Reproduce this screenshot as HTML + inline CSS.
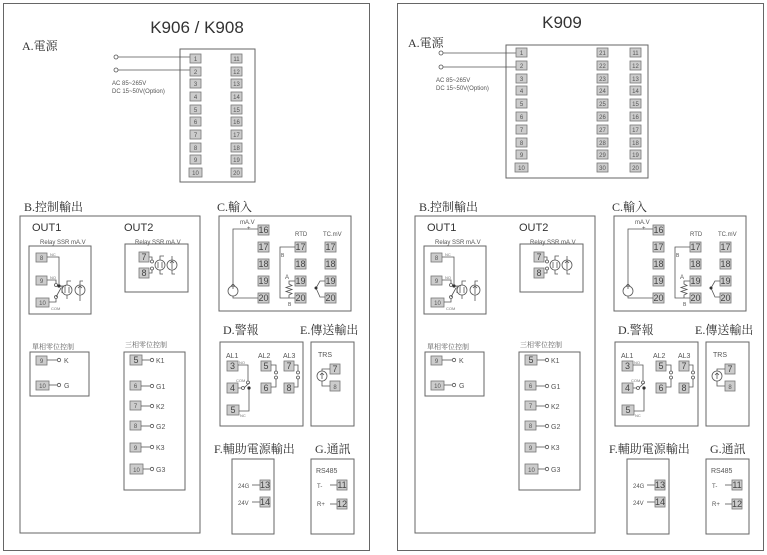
<!DOCTYPE html>
<html><head><meta charset="utf-8"><style>
html,body{margin:0;padding:0;background:#fff}
svg{display:block}
text{font-family:"Liberation Sans",sans-serif;fill:#444}
.cj{font-family:"Liberation Serif","Noto Serif CJK SC","Noto Sans CJK TC",serif;font-size:12px;fill:#333}
.cs{font-family:"Liberation Serif","Noto Serif CJK SC","Noto Sans CJK TC",serif;font-size:7px;fill:#666}
.t{fill:#ccc;stroke:#777;stroke-width:0.8}
.n{font-size:6px;text-anchor:middle;fill:#555}
.nb{font-size:9px;text-anchor:middle;fill:#444}
.w{fill:none;stroke:#555;stroke-width:0.8}
.b{fill:none;stroke:#666;stroke-width:1}
.s{font-size:6px;fill:#555}
</style></head><body>
<svg width="767" height="555" viewBox="0 0 767 555" xmlns="http://www.w3.org/2000/svg">
<rect x="3.5" y="3.5" width="366" height="547" class="b"/>
<rect x="397.5" y="3.5" width="366" height="547" class="b"/>

<text x="197" y="33" style="font-size:17px;text-anchor:middle;fill:#333">K906 / K908</text>
<text x="22" y="50" class="cj">A.電源</text>
<rect x="180" y="49" width="75" height="133" class="b"/>
<g>
<circle cx="116" cy="57" r="2" class="w"/><path d="M118 57H190" class="w"/>
<circle cx="116" cy="70" r="2" class="w"/><path d="M118 70H190" class="w"/>
<text x="112" y="85" class="s">AC 85~265V</text>
<text x="112" y="93" class="s">DC 15~50V(Option)</text>
</g>
<g>
<rect x="190" y="54" width="11" height="9" class="t"/><text x="195.5" y="61" class="n">1</text>
<rect x="190" y="67" width="11" height="9" class="t"/><text x="195.5" y="74" class="n">2</text>
<rect x="190" y="79" width="11" height="9" class="t"/><text x="195.5" y="86" class="n">3</text>
<rect x="190" y="92" width="11" height="9" class="t"/><text x="195.5" y="99" class="n">4</text>
<rect x="190" y="105" width="11" height="9" class="t"/><text x="195.5" y="112" class="n">5</text>
<rect x="190" y="117" width="11" height="9" class="t"/><text x="195.5" y="124" class="n">6</text>
<rect x="190" y="130" width="11" height="9" class="t"/><text x="195.5" y="137" class="n">7</text>
<rect x="190" y="143" width="11" height="9" class="t"/><text x="195.5" y="150" class="n">8</text>
<rect x="190" y="155" width="11" height="9" class="t"/><text x="195.5" y="162" class="n">9</text>
<rect x="189" y="168" width="13" height="9" class="t"/><text x="195.5" y="175" class="n">10</text>
<rect x="231" y="54" width="11" height="9" class="t"/><text x="236.5" y="61" class="n">11</text>
<rect x="231" y="67" width="11" height="9" class="t"/><text x="236.5" y="74" class="n">12</text>
<rect x="231" y="79" width="11" height="9" class="t"/><text x="236.5" y="86" class="n">13</text>
<rect x="231" y="92" width="11" height="9" class="t"/><text x="236.5" y="99" class="n">14</text>
<rect x="231" y="105" width="11" height="9" class="t"/><text x="236.5" y="112" class="n">15</text>
<rect x="231" y="117" width="11" height="9" class="t"/><text x="236.5" y="124" class="n">16</text>
<rect x="231" y="130" width="11" height="9" class="t"/><text x="236.5" y="137" class="n">17</text>
<rect x="231" y="143" width="11" height="9" class="t"/><text x="236.5" y="150" class="n">18</text>
<rect x="231" y="155" width="11" height="9" class="t"/><text x="236.5" y="162" class="n">19</text>
<rect x="231" y="168" width="11" height="9" class="t"/><text x="236.5" y="175" class="n">20</text>
</g>

<text x="562" y="28" style="font-size:17px;text-anchor:middle;fill:#333">K909</text>
<text x="408" y="47" class="cj">A.電源</text>
<rect x="506" y="45" width="142" height="133" class="b"/>
<circle cx="441" cy="53" r="2" class="w"/><path d="M443 53H516" class="w"/>
<circle cx="441" cy="67" r="2" class="w"/><path d="M443 67H516" class="w"/>
<text x="436" y="82" class="s">AC 85~265V</text>
<text x="436" y="90" class="s">DC 15~50V(Option)</text>
<g>
<rect x="516" y="48" width="11" height="9" class="t"/><text x="521.5" y="55" class="n">1</text>
<rect x="516" y="61" width="11" height="9" class="t"/><text x="521.5" y="68" class="n">2</text>
<rect x="516" y="74" width="11" height="9" class="t"/><text x="521.5" y="81" class="n">3</text>
<rect x="516" y="86" width="11" height="9" class="t"/><text x="521.5" y="93" class="n">4</text>
<rect x="516" y="99" width="11" height="9" class="t"/><text x="521.5" y="106" class="n">5</text>
<rect x="516" y="112" width="11" height="9" class="t"/><text x="521.5" y="119" class="n">6</text>
<rect x="516" y="125" width="11" height="9" class="t"/><text x="521.5" y="132" class="n">7</text>
<rect x="516" y="138" width="11" height="9" class="t"/><text x="521.5" y="145" class="n">8</text>
<rect x="516" y="150" width="11" height="9" class="t"/><text x="521.5" y="157" class="n">9</text>
<rect x="515" y="163" width="13" height="9" class="t"/><text x="521.5" y="170" class="n">10</text>
<rect x="597" y="48" width="11" height="9" class="t"/><text x="602.5" y="55" class="n">21</text>
<rect x="597" y="61" width="11" height="9" class="t"/><text x="602.5" y="68" class="n">22</text>
<rect x="597" y="74" width="11" height="9" class="t"/><text x="602.5" y="81" class="n">23</text>
<rect x="597" y="86" width="11" height="9" class="t"/><text x="602.5" y="93" class="n">24</text>
<rect x="597" y="99" width="11" height="9" class="t"/><text x="602.5" y="106" class="n">25</text>
<rect x="597" y="112" width="11" height="9" class="t"/><text x="602.5" y="119" class="n">26</text>
<rect x="597" y="125" width="11" height="9" class="t"/><text x="602.5" y="132" class="n">27</text>
<rect x="597" y="138" width="11" height="9" class="t"/><text x="602.5" y="145" class="n">28</text>
<rect x="597" y="150" width="11" height="9" class="t"/><text x="602.5" y="157" class="n">29</text>
<rect x="597" y="163" width="11" height="9" class="t"/><text x="602.5" y="170" class="n">30</text>
<rect x="630" y="48" width="11" height="9" class="t"/><text x="635.5" y="55" class="n">11</text>
<rect x="630" y="61" width="11" height="9" class="t"/><text x="635.5" y="68" class="n">12</text>
<rect x="630" y="74" width="11" height="9" class="t"/><text x="635.5" y="81" class="n">13</text>
<rect x="630" y="86" width="11" height="9" class="t"/><text x="635.5" y="93" class="n">14</text>
<rect x="630" y="99" width="11" height="9" class="t"/><text x="635.5" y="106" class="n">15</text>
<rect x="630" y="112" width="11" height="9" class="t"/><text x="635.5" y="119" class="n">16</text>
<rect x="630" y="125" width="11" height="9" class="t"/><text x="635.5" y="132" class="n">17</text>
<rect x="630" y="138" width="11" height="9" class="t"/><text x="635.5" y="145" class="n">18</text>
<rect x="630" y="150" width="11" height="9" class="t"/><text x="635.5" y="157" class="n">19</text>
<rect x="630" y="163" width="11" height="9" class="t"/><text x="635.5" y="170" class="n">20</text>
</g>

<g>
<text x="24" y="211" class="cj">B.控制輸出</text>
<rect x="20" y="216" width="180" height="317" class="b"/>
<text x="32" y="231" style="font-size:11px;fill:#333">OUT1</text>
<text x="124" y="231" style="font-size:11px;fill:#333">OUT2</text>
<text x="40" y="244" class="s">Relay SSR mA.V</text>
<text x="135" y="244" class="s">Relay SSR mA.V</text>
<rect x="29" y="246" width="62" height="68" class="b"/>
<rect x="36" y="253" width="11" height="9" class="t"/><text x="41.5" y="260" class="n">8</text>
<rect x="36" y="276" width="11" height="9" class="t"/><text x="41.5" y="283" class="n">9</text>
<rect x="36" y="298" width="13" height="9" class="t"/><text x="42.5" y="305" class="n">10</text>
<path d="M47 257H59V286M47 280H56V283M49 302H56V299M56 297L61 288M59 286H66M62 293V286" class="w"/>
<circle cx="56" cy="285" r="1.5" class="w"/><circle cx="56" cy="297" r="1.5" class="w"/><circle cx="59" cy="286" r="1.6" fill="#333"/>
<circle cx="67" cy="290" r="5" class="w"/><circle cx="80" cy="290" r="5" class="w"/>
<path d="M67 285V281H71M67 295V299M80 285V281H83M80 295V301M80 294V286M78 288L80 286L82 288M65 287V293M69 287V293" class="w"/>
<text x="50" y="256" style="font-size:4px;fill:#777">NC</text><text x="50" y="279" style="font-size:4px;fill:#777">NO</text><text x="51" y="310" style="font-size:4px;fill:#777">COM</text>
<rect x="125" y="244" width="63" height="48" class="b"/>
<rect x="139" y="252" width="10" height="10" class="t"/><text x="144" y="260" class="nb">7</text>
<rect x="139" y="268" width="10" height="10" class="t"/><text x="144" y="276" class="nb">8</text>
<path d="M149 257H152V260M149 273H152V270" class="w"/>
<circle cx="152" cy="261.5" r="1.5" class="w"/><circle cx="152" cy="268.5" r="1.5" class="w"/>
<circle cx="160" cy="265" r="5" class="w"/><circle cx="172" cy="265" r="5" class="w"/>
<path d="M160 260V256H164M160 270V274H163M172 260V256M172 270V274H175M172 269V261M170 263L172 261L174 263M158 262V268M162 262V268" class="w"/>

<text x="32" y="349" class="cs">單相零位控制</text>
<rect x="30" y="352" width="59" height="44" class="b"/>
<rect x="36" y="356" width="11" height="9" class="t"/><text x="41.5" y="363" class="n">9</text>
<path d="M47 360H57" class="w"/><circle cx="59" cy="360" r="1.7" class="w"/><text x="64" y="363" class="s" style="font-size:7px">K</text>
<rect x="36" y="381" width="13" height="9" class="t"/><text x="42.5" y="388" class="n">10</text>
<path d="M49 385H57" class="w"/><circle cx="59" cy="385" r="1.7" class="w"/><text x="64" y="388" class="s" style="font-size:7px">G</text>

<text x="125" y="347" class="cs">三相零位控制</text>
<rect x="124" y="352" width="61" height="138" class="b"/>
<rect x="130" y="355" width="12" height="10" class="t"/><text x="136" y="363" class="nb">5</text>
<path d="M142 360H150" class="w"/><circle cx="152" cy="360" r="1.7" class="w"/><text x="156" y="363" class="s" style="font-size:7px">K1</text>
<rect x="130" y="381" width="11" height="9" class="t"/><text x="135.5" y="388" class="n">6</text>
<path d="M141 386H150" class="w"/><circle cx="152" cy="386" r="1.7" class="w"/><text x="156" y="389" class="s" style="font-size:7px">G1</text>
<rect x="130" y="401" width="11" height="9" class="t"/><text x="135.5" y="408" class="n">7</text>
<path d="M141 406H150" class="w"/><circle cx="152" cy="406" r="1.7" class="w"/><text x="156" y="409" class="s" style="font-size:7px">K2</text>
<rect x="130" y="421" width="11" height="9" class="t"/><text x="135.5" y="428" class="n">8</text>
<path d="M141 426H150" class="w"/><circle cx="152" cy="426" r="1.7" class="w"/><text x="156" y="429" class="s" style="font-size:7px">G2</text>
<rect x="130" y="443" width="11" height="9" class="t"/><text x="135.5" y="450" class="n">9</text>
<path d="M141 447H150" class="w"/><circle cx="152" cy="447" r="1.7" class="w"/><text x="156" y="450" class="s" style="font-size:7px">K3</text>
<rect x="130" y="464" width="13" height="10" class="t"/><text x="136.5" y="472" class="n">10</text>
<path d="M143 469H150" class="w"/><circle cx="152" cy="469" r="1.7" class="w"/><text x="156" y="472" class="s" style="font-size:7px">G3</text>

<text x="217" y="211" class="cj">C.輸入</text>
<rect x="219" y="216" width="132" height="95" class="b"/>
<text x="240" y="224" class="s">mA.V</text><text x="247" y="230" class="s">+</text>
<text x="295" y="236" class="s">RTD</text><text x="323" y="236" class="s">TC.mV</text>
<g>
<rect x="258" y="225" width="11" height="10" class="t"/><text x="263.5" y="233" class="nb">16</text>
<rect x="258" y="242" width="11" height="10" class="t"/><text x="263.5" y="250" class="nb">17</text>
<rect x="258" y="259" width="11" height="10" class="t"/><text x="263.5" y="267" class="nb">18</text>
<rect x="258" y="276" width="11" height="10" class="t"/><text x="263.5" y="284" class="nb">19</text>
<rect x="258" y="293" width="11" height="10" class="t"/><text x="263.5" y="301" class="nb">20</text>
<rect x="295" y="242" width="11" height="10" class="t"/><text x="300.5" y="250" class="nb">17</text>
<rect x="295" y="259" width="11" height="10" class="t"/><text x="300.5" y="267" class="nb">18</text>
<rect x="295" y="276" width="11" height="10" class="t"/><text x="300.5" y="284" class="nb">19</text>
<rect x="295" y="293" width="11" height="10" class="t"/><text x="300.5" y="301" class="nb">20</text>
<rect x="325" y="242" width="11" height="10" class="t"/><text x="330.5" y="250" class="nb">17</text>
<rect x="325" y="259" width="11" height="10" class="t"/><text x="330.5" y="267" class="nb">18</text>
<rect x="325" y="276" width="11" height="10" class="t"/><text x="330.5" y="284" class="nb">19</text>
<rect x="325" y="293" width="11" height="10" class="t"/><text x="330.5" y="301" class="nb">20</text>
</g>
<path d="M258 229H233V286M233 296V298H258M233 289V284M231 286L233 284L235 286" class="w"/>
<circle cx="233" cy="291" r="5" class="w"/>
<path d="M295 247H280V298H295M295 281H289V284L292 285.5L286 287.5L292 289.5L286 291.5L292 293.5L289 295V298" class="w"/>
<text x="281" y="257" class="s" style="font-size:5px">B</text><text x="285" y="279" class="s">A</text><text x="288" y="306" class="s" style="font-size:5px">B</text>
<path d="M325 281H320L316 288L320 297H325" class="w"/><circle cx="316" cy="288" r="1.5" fill="#333"/>

<text x="223" y="334" class="cj">D.警報</text>
<text x="300" y="334" class="cj">E.傳送輸出</text>
<rect x="220" y="342" width="83" height="84" class="b"/>
<text x="226" y="358" class="s" style="font-size:7px">AL1</text><text x="258" y="358" class="s" style="font-size:7px">AL2</text><text x="283" y="358" class="s" style="font-size:7px">AL3</text>
<rect x="227" y="361" width="11" height="10" class="t"/><text x="232.5" y="369" class="nb">3</text>
<rect x="227" y="383" width="11" height="10" class="t"/><text x="232.5" y="391" class="nb">4</text>
<rect x="227" y="405" width="12" height="10" class="t"/><text x="233" y="413" class="nb">5</text>
<rect x="261" y="361" width="10" height="10" class="t"/><text x="266" y="369" class="nb">5</text>
<rect x="261" y="383" width="10" height="10" class="t"/><text x="266" y="391" class="nb">6</text>
<rect x="284" y="361" width="10" height="10" class="t"/><text x="289" y="369" class="nb">7</text>
<rect x="284" y="383" width="10" height="10" class="t"/><text x="289" y="391" class="nb">8</text>
<path d="M238 365H248V381M238 388H242M244 388L249 383M249 388V411H239M271 365H276V371M276 379V387H271M294 365H298V371M298 379V387H294" class="w"/>
<circle cx="248" cy="382.5" r="1.5" class="w"/><circle cx="243" cy="388" r="1.5" class="w"/><circle cx="249" cy="388" r="1.6" fill="#333"/>
<circle cx="276" cy="372.5" r="1.5" class="w"/><circle cx="276" cy="377.5" r="1.5" class="w"/>
<circle cx="298" cy="372.5" r="1.5" class="w"/><circle cx="298" cy="377.5" r="1.5" class="w"/>
<text x="239" y="364" style="font-size:4px;fill:#777">NO</text><text x="236" y="382" style="font-size:4px;fill:#777">COM</text><text x="240" y="417" style="font-size:4px;fill:#777">NC</text>
<rect x="311" y="342" width="43" height="84" class="b"/>
<text x="318" y="357" class="s" style="font-size:7px">TRS</text>
<rect x="330" y="364" width="10" height="10" class="t"/><text x="335" y="372" class="nb">7</text>
<rect x="330" y="381" width="10" height="10" class="t"/><text x="335" y="389" class="n">8</text>
<path d="M330 369H322V371M322 381V386H330M322 379V373M320 375L322 373L324 375" class="w"/>
<circle cx="322" cy="376" r="5" class="w"/>

<text x="214" y="453" class="cj">F.輔助電源輸出</text>
<text x="315" y="453" class="cj">G.通訊</text>
<rect x="232" y="459" width="42" height="75" class="b"/>
<text x="238" y="488" class="s">24G</text><path d="M252 485H260" class="w"/>
<rect x="260" y="480" width="10" height="10" class="t"/><text x="265" y="488" class="nb">13</text>
<text x="238" y="505" class="s">24V</text><path d="M252 502H260" class="w"/>
<rect x="260" y="497" width="10" height="10" class="t"/><text x="265" y="505" class="nb">14</text>
<rect x="311" y="459" width="43" height="75" class="b"/>
<text x="316" y="473" class="s" style="font-size:7px">RS485</text>
<text x="317" y="488" class="s">T-</text><path d="M330 485H337" class="w"/>
<rect x="337" y="480" width="10" height="10" class="t"/><text x="342" y="488" class="nb">11</text>
<text x="317" y="506" class="s">R+</text><path d="M330 504H337" class="w"/>
<rect x="337" y="499" width="10" height="10" class="t"/><text x="342" y="507" class="nb">12</text>
</g>

<g transform="translate(395,0)">
<text x="24" y="211" class="cj">B.控制輸出</text>
<rect x="20" y="216" width="180" height="317" class="b"/>
<text x="32" y="231" style="font-size:11px;fill:#333">OUT1</text>
<text x="124" y="231" style="font-size:11px;fill:#333">OUT2</text>
<text x="40" y="244" class="s">Relay SSR mA.V</text>
<text x="135" y="244" class="s">Relay SSR mA.V</text>
<rect x="29" y="246" width="62" height="68" class="b"/>
<rect x="36" y="253" width="11" height="9" class="t"/><text x="41.5" y="260" class="n">8</text>
<rect x="36" y="276" width="11" height="9" class="t"/><text x="41.5" y="283" class="n">9</text>
<rect x="36" y="298" width="13" height="9" class="t"/><text x="42.5" y="305" class="n">10</text>
<path d="M47 257H59V286M47 280H56V283M49 302H56V299M56 297L61 288M59 286H66M62 293V286" class="w"/>
<circle cx="56" cy="285" r="1.5" class="w"/><circle cx="56" cy="297" r="1.5" class="w"/><circle cx="59" cy="286" r="1.6" fill="#333"/>
<circle cx="67" cy="290" r="5" class="w"/><circle cx="80" cy="290" r="5" class="w"/>
<path d="M67 285V281H71M67 295V299M80 285V281H83M80 295V301M80 294V286M78 288L80 286L82 288M65 287V293M69 287V293" class="w"/>
<text x="50" y="256" style="font-size:4px;fill:#777">NC</text><text x="50" y="279" style="font-size:4px;fill:#777">NO</text><text x="51" y="310" style="font-size:4px;fill:#777">COM</text>
<rect x="125" y="244" width="63" height="48" class="b"/>
<rect x="139" y="252" width="10" height="10" class="t"/><text x="144" y="260" class="nb">7</text>
<rect x="139" y="268" width="10" height="10" class="t"/><text x="144" y="276" class="nb">8</text>
<path d="M149 257H152V260M149 273H152V270" class="w"/>
<circle cx="152" cy="261.5" r="1.5" class="w"/><circle cx="152" cy="268.5" r="1.5" class="w"/>
<circle cx="160" cy="265" r="5" class="w"/><circle cx="172" cy="265" r="5" class="w"/>
<path d="M160 260V256H164M160 270V274H163M172 260V256M172 270V274H175M172 269V261M170 263L172 261L174 263M158 262V268M162 262V268" class="w"/>

<text x="32" y="349" class="cs">單相零位控制</text>
<rect x="30" y="352" width="59" height="44" class="b"/>
<rect x="36" y="356" width="11" height="9" class="t"/><text x="41.5" y="363" class="n">9</text>
<path d="M47 360H57" class="w"/><circle cx="59" cy="360" r="1.7" class="w"/><text x="64" y="363" class="s" style="font-size:7px">K</text>
<rect x="36" y="381" width="13" height="9" class="t"/><text x="42.5" y="388" class="n">10</text>
<path d="M49 385H57" class="w"/><circle cx="59" cy="385" r="1.7" class="w"/><text x="64" y="388" class="s" style="font-size:7px">G</text>

<text x="125" y="347" class="cs">三相零位控制</text>
<rect x="124" y="352" width="61" height="138" class="b"/>
<rect x="130" y="355" width="12" height="10" class="t"/><text x="136" y="363" class="nb">5</text>
<path d="M142 360H150" class="w"/><circle cx="152" cy="360" r="1.7" class="w"/><text x="156" y="363" class="s" style="font-size:7px">K1</text>
<rect x="130" y="381" width="11" height="9" class="t"/><text x="135.5" y="388" class="n">6</text>
<path d="M141 386H150" class="w"/><circle cx="152" cy="386" r="1.7" class="w"/><text x="156" y="389" class="s" style="font-size:7px">G1</text>
<rect x="130" y="401" width="11" height="9" class="t"/><text x="135.5" y="408" class="n">7</text>
<path d="M141 406H150" class="w"/><circle cx="152" cy="406" r="1.7" class="w"/><text x="156" y="409" class="s" style="font-size:7px">K2</text>
<rect x="130" y="421" width="11" height="9" class="t"/><text x="135.5" y="428" class="n">8</text>
<path d="M141 426H150" class="w"/><circle cx="152" cy="426" r="1.7" class="w"/><text x="156" y="429" class="s" style="font-size:7px">G2</text>
<rect x="130" y="443" width="11" height="9" class="t"/><text x="135.5" y="450" class="n">9</text>
<path d="M141 447H150" class="w"/><circle cx="152" cy="447" r="1.7" class="w"/><text x="156" y="450" class="s" style="font-size:7px">K3</text>
<rect x="130" y="464" width="13" height="10" class="t"/><text x="136.5" y="472" class="n">10</text>
<path d="M143 469H150" class="w"/><circle cx="152" cy="469" r="1.7" class="w"/><text x="156" y="472" class="s" style="font-size:7px">G3</text>

<text x="217" y="211" class="cj">C.輸入</text>
<rect x="219" y="216" width="132" height="95" class="b"/>
<text x="240" y="224" class="s">mA.V</text><text x="247" y="230" class="s">+</text>
<text x="295" y="236" class="s">RTD</text><text x="323" y="236" class="s">TC.mV</text>
<g>
<rect x="258" y="225" width="11" height="10" class="t"/><text x="263.5" y="233" class="nb">16</text>
<rect x="258" y="242" width="11" height="10" class="t"/><text x="263.5" y="250" class="nb">17</text>
<rect x="258" y="259" width="11" height="10" class="t"/><text x="263.5" y="267" class="nb">18</text>
<rect x="258" y="276" width="11" height="10" class="t"/><text x="263.5" y="284" class="nb">19</text>
<rect x="258" y="293" width="11" height="10" class="t"/><text x="263.5" y="301" class="nb">20</text>
<rect x="295" y="242" width="11" height="10" class="t"/><text x="300.5" y="250" class="nb">17</text>
<rect x="295" y="259" width="11" height="10" class="t"/><text x="300.5" y="267" class="nb">18</text>
<rect x="295" y="276" width="11" height="10" class="t"/><text x="300.5" y="284" class="nb">19</text>
<rect x="295" y="293" width="11" height="10" class="t"/><text x="300.5" y="301" class="nb">20</text>
<rect x="325" y="242" width="11" height="10" class="t"/><text x="330.5" y="250" class="nb">17</text>
<rect x="325" y="259" width="11" height="10" class="t"/><text x="330.5" y="267" class="nb">18</text>
<rect x="325" y="276" width="11" height="10" class="t"/><text x="330.5" y="284" class="nb">19</text>
<rect x="325" y="293" width="11" height="10" class="t"/><text x="330.5" y="301" class="nb">20</text>
</g>
<path d="M258 229H233V286M233 296V298H258M233 289V284M231 286L233 284L235 286" class="w"/>
<circle cx="233" cy="291" r="5" class="w"/>
<path d="M295 247H280V298H295M295 281H289V284L292 285.5L286 287.5L292 289.5L286 291.5L292 293.5L289 295V298" class="w"/>
<text x="281" y="257" class="s" style="font-size:5px">B</text><text x="285" y="279" class="s">A</text><text x="288" y="306" class="s" style="font-size:5px">B</text>
<path d="M325 281H320L316 288L320 297H325" class="w"/><circle cx="316" cy="288" r="1.5" fill="#333"/>

<text x="223" y="334" class="cj">D.警報</text>
<text x="300" y="334" class="cj">E.傳送輸出</text>
<rect x="220" y="342" width="83" height="84" class="b"/>
<text x="226" y="358" class="s" style="font-size:7px">AL1</text><text x="258" y="358" class="s" style="font-size:7px">AL2</text><text x="283" y="358" class="s" style="font-size:7px">AL3</text>
<rect x="227" y="361" width="11" height="10" class="t"/><text x="232.5" y="369" class="nb">3</text>
<rect x="227" y="383" width="11" height="10" class="t"/><text x="232.5" y="391" class="nb">4</text>
<rect x="227" y="405" width="12" height="10" class="t"/><text x="233" y="413" class="nb">5</text>
<rect x="261" y="361" width="10" height="10" class="t"/><text x="266" y="369" class="nb">5</text>
<rect x="261" y="383" width="10" height="10" class="t"/><text x="266" y="391" class="nb">6</text>
<rect x="284" y="361" width="10" height="10" class="t"/><text x="289" y="369" class="nb">7</text>
<rect x="284" y="383" width="10" height="10" class="t"/><text x="289" y="391" class="nb">8</text>
<path d="M238 365H248V381M238 388H242M244 388L249 383M249 388V411H239M271 365H276V371M276 379V387H271M294 365H298V371M298 379V387H294" class="w"/>
<circle cx="248" cy="382.5" r="1.5" class="w"/><circle cx="243" cy="388" r="1.5" class="w"/><circle cx="249" cy="388" r="1.6" fill="#333"/>
<circle cx="276" cy="372.5" r="1.5" class="w"/><circle cx="276" cy="377.5" r="1.5" class="w"/>
<circle cx="298" cy="372.5" r="1.5" class="w"/><circle cx="298" cy="377.5" r="1.5" class="w"/>
<text x="239" y="364" style="font-size:4px;fill:#777">NO</text><text x="236" y="382" style="font-size:4px;fill:#777">COM</text><text x="240" y="417" style="font-size:4px;fill:#777">NC</text>
<rect x="311" y="342" width="43" height="84" class="b"/>
<text x="318" y="357" class="s" style="font-size:7px">TRS</text>
<rect x="330" y="364" width="10" height="10" class="t"/><text x="335" y="372" class="nb">7</text>
<rect x="330" y="381" width="10" height="10" class="t"/><text x="335" y="389" class="n">8</text>
<path d="M330 369H322V371M322 381V386H330M322 379V373M320 375L322 373L324 375" class="w"/>
<circle cx="322" cy="376" r="5" class="w"/>

<text x="214" y="453" class="cj">F.輔助電源輸出</text>
<text x="315" y="453" class="cj">G.通訊</text>
<rect x="232" y="459" width="42" height="75" class="b"/>
<text x="238" y="488" class="s">24G</text><path d="M252 485H260" class="w"/>
<rect x="260" y="480" width="10" height="10" class="t"/><text x="265" y="488" class="nb">13</text>
<text x="238" y="505" class="s">24V</text><path d="M252 502H260" class="w"/>
<rect x="260" y="497" width="10" height="10" class="t"/><text x="265" y="505" class="nb">14</text>
<rect x="311" y="459" width="43" height="75" class="b"/>
<text x="316" y="473" class="s" style="font-size:7px">RS485</text>
<text x="317" y="488" class="s">T-</text><path d="M330 485H337" class="w"/>
<rect x="337" y="480" width="10" height="10" class="t"/><text x="342" y="488" class="nb">11</text>
<text x="317" y="506" class="s">R+</text><path d="M330 504H337" class="w"/>
<rect x="337" y="499" width="10" height="10" class="t"/><text x="342" y="507" class="nb">12</text>
</g>
</svg>
</body></html>
